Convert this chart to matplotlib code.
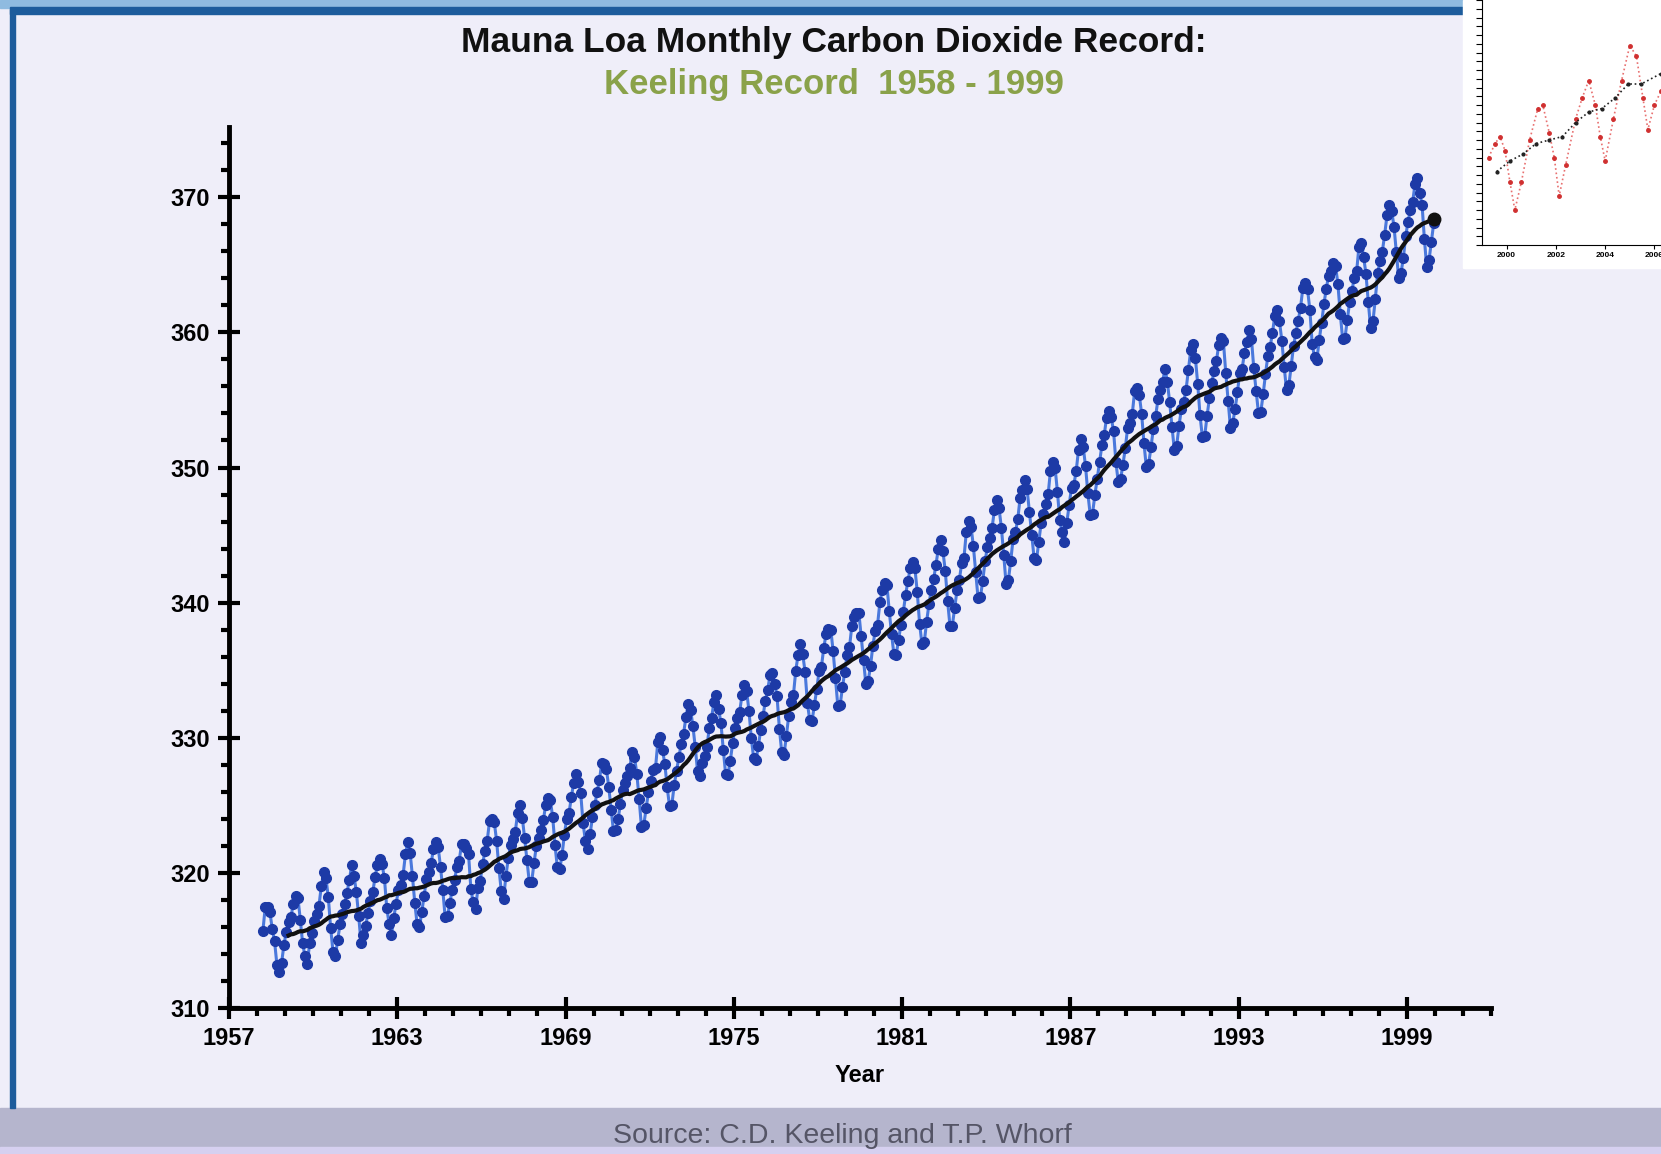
import numpy as np
import pandas as pd
import matplotlib
matplotlib.use("Agg")
import matplotlib.pyplot as plt
from matplotlib.ticker import MultipleLocator
from matplotlib.patches import Rectangle

plt.rcParams['font.family'] = ['Liberation Sans', 'DejaVu Sans']

# monthly CO2 (ppm), 1958 starts in March
co2_1958 = [315.71, 317.45, 317.50, 317.10, 315.86, 314.93, 313.20, 312.66, 313.33, 314.67]
co2_1959 = [315.62, 316.38, 316.71, 317.72, 318.29, 318.15, 316.54, 314.80, 313.84, 313.26, 314.80, 315.58]
co2_1960 = [316.43, 316.97, 317.58, 319.02, 320.03, 319.59, 318.18, 315.91, 314.16, 313.83, 315.00, 316.19]
co2_1961 = [316.93, 317.70, 318.54, 319.48, 320.58, 319.77, 318.57, 316.79, 314.80, 315.38, 316.10, 317.01]
co2_1962 = [317.94, 318.55, 319.68, 320.57, 321.02, 320.62, 319.61, 317.40, 316.25, 315.42, 316.69, 317.70]
co2_1963 = [318.74, 319.07, 319.86, 321.38, 322.25, 321.48, 319.74, 317.77, 316.21, 315.99, 317.12, 318.31]
co2_1964 = [319.57, 320.07, 320.73, 321.77, 322.25, 321.89, 320.44, 318.70, 316.70, 316.79, 317.79, 318.71]
co2_1965 = [319.44, 320.44, 320.89, 322.13, 322.16, 321.87, 321.39, 318.80, 317.81, 317.30, 318.87, 319.42]
co2_1966 = [320.62, 321.59, 322.39, 323.87, 324.01, 323.75, 322.39, 320.37, 318.64, 318.10, 319.79, 321.08]
co2_1967 = [322.07, 322.50, 323.04, 324.42, 325.00, 324.09, 322.55, 320.92, 319.31, 319.31, 320.72, 321.96]
co2_1968 = [322.57, 323.15, 323.89, 325.02, 325.57, 325.36, 324.14, 322.03, 320.41, 320.25, 321.31, 322.84]
co2_1969 = [324.00, 324.42, 325.64, 326.66, 327.34, 326.76, 325.88, 323.67, 322.38, 321.78, 322.85, 324.11]
co2_1970 = [325.03, 325.99, 326.87, 328.13, 328.07, 327.66, 326.35, 324.69, 323.10, 323.16, 323.98, 325.13]
co2_1971 = [326.17, 326.68, 327.18, 327.78, 328.92, 328.57, 327.34, 325.46, 323.36, 323.57, 324.80, 326.01]
co2_1972 = [326.77, 327.63, 327.75, 329.72, 330.07, 329.09, 328.05, 326.32, 324.93, 325.06, 326.50, 327.55]
co2_1973 = [328.54, 329.56, 330.30, 331.50, 332.48, 332.07, 330.87, 329.31, 327.51, 327.18, 328.16, 328.64]
co2_1974 = [329.35, 330.71, 331.48, 332.65, 333.19, 332.16, 331.07, 329.12, 327.32, 327.28, 328.30, 329.58]
co2_1975 = [330.73, 331.46, 331.90, 333.17, 333.94, 333.45, 331.97, 329.95, 328.50, 328.34, 329.37, 330.58]
co2_1976 = [331.59, 332.75, 333.52, 334.64, 334.77, 334.00, 333.06, 330.68, 328.95, 328.75, 330.15, 331.62]
co2_1977 = [332.66, 333.13, 334.95, 336.13, 336.93, 336.17, 334.88, 332.56, 331.29, 331.27, 332.41, 333.60]
co2_1978 = [334.95, 335.25, 336.66, 337.69, 338.03, 338.01, 336.41, 334.41, 332.37, 332.41, 333.75, 334.90]
co2_1979 = [336.14, 336.69, 338.27, 338.95, 339.21, 339.26, 337.54, 335.75, 333.98, 334.19, 335.31, 336.81]
co2_1980 = [337.90, 338.34, 340.01, 340.93, 341.48, 341.33, 339.40, 337.70, 336.19, 336.15, 337.27, 338.32]
co2_1981 = [339.29, 340.55, 341.61, 342.53, 343.03, 342.54, 340.78, 338.44, 336.95, 337.08, 338.58, 339.88]
co2_1982 = [340.96, 341.73, 342.81, 343.97, 344.63, 343.79, 342.32, 340.09, 338.28, 338.29, 339.60, 340.90]
co2_1983 = [341.68, 342.90, 343.33, 345.25, 346.03, 345.63, 344.19, 342.27, 340.35, 340.38, 341.59, 343.05]
co2_1984 = [344.10, 344.79, 345.52, 346.84, 347.63, 346.98, 345.53, 343.55, 341.40, 341.67, 343.10, 344.70]
co2_1985 = [345.21, 346.16, 347.74, 348.34, 349.06, 348.38, 346.72, 345.02, 343.27, 343.13, 344.49, 345.88]
co2_1986 = [346.56, 347.28, 348.01, 349.77, 350.38, 349.93, 348.16, 346.08, 345.22, 344.51, 345.93, 347.22]
co2_1987 = [348.52, 348.73, 349.73, 351.31, 352.09, 351.53, 350.11, 348.08, 346.52, 346.59, 347.96, 349.16]
co2_1988 = [350.39, 351.64, 352.41, 353.69, 354.21, 353.72, 352.69, 350.40, 348.92, 349.13, 350.20, 351.41]
co2_1989 = [352.91, 353.27, 353.96, 355.64, 355.86, 355.37, 353.99, 351.81, 350.05, 350.25, 351.49, 352.85]
co2_1990 = [353.80, 355.04, 355.73, 356.32, 357.32, 356.34, 354.84, 353.01, 351.31, 351.62, 353.07, 354.33]
co2_1991 = [354.84, 355.73, 357.23, 358.66, 359.13, 358.13, 356.19, 353.85, 352.25, 352.35, 353.81, 355.12]
co2_1992 = [356.25, 357.11, 357.86, 359.09, 359.59, 359.33, 357.01, 354.94, 352.96, 353.32, 354.32, 355.57]
co2_1993 = [357.00, 357.31, 358.47, 359.27, 360.19, 359.52, 357.33, 355.64, 354.03, 354.12, 355.41, 356.91]
co2_1994 = [358.24, 358.92, 359.99, 361.23, 361.65, 360.81, 359.38, 357.46, 355.73, 356.07, 357.53, 358.98]
co2_1995 = [359.92, 360.86, 361.83, 363.30, 363.69, 363.19, 361.64, 359.12, 358.17, 357.99, 359.45, 360.68]
co2_1996 = [362.07, 363.24, 364.17, 364.57, 365.13, 364.92, 363.55, 361.38, 359.54, 359.58, 360.89, 362.24]
co2_1997 = [363.09, 364.03, 364.51, 366.35, 366.64, 365.59, 364.31, 362.25, 360.29, 360.82, 362.49, 364.38]
co2_1998 = [365.26, 365.98, 367.24, 368.66, 369.42, 368.99, 367.82, 365.95, 364.02, 364.40, 365.52, 367.13]
co2_1999 = [368.18, 369.07, 369.68, 370.99, 371.46, 370.30, 369.45, 366.90, 364.81, 365.37, 366.72, 368.10]

x_ticks = [1957, 1963, 1969, 1975, 1981, 1987, 1993, 1999]
y_ticks = [310, 320, 330, 340, 350, 360, 370]

# small chart pasted at top right (rough reading, pixel-ish units)
inset_red_x = [115, 135, 150, 165, 180, 195, 215, 240, 265, 280, 300, 315, 330, 350, 380, 400, 420, 440,
               455, 470, 495, 520, 545, 565, 585, 600, 620, 640]
inset_red_y = [250, 290, 310, 270, 180, 100, 180, 300, 390, 400, 320, 250, 140, 230, 360, 420, 470, 400,
               310, 240, 360, 470, 570, 540, 420, 330, 400, 440]
inset_blk_x = [140, 180, 220, 260, 300, 340, 380, 420, 460, 500, 540, 580, 640]
inset_blk_y = [210, 240, 260, 290, 300, 310, 350, 380, 390, 420, 460, 460, 490]
inset_labels = ['2000', '2002', '2004', '2006']

all_years = {y: globals()['co2_%d' % y] for y in range(1958, 2000)}
t = []
co2 = []
for y, vals in all_years.items():
    start = 12 - len(vals)
    for i, v in enumerate(vals):
        t.append(y + (start + i + 0.5) / 12)
        co2.append(v)
trend = pd.Series(co2).rolling(12).mean()

bg = '#efeef9'
fig = plt.figure(figsize=(16.61, 11.54), dpi=100, facecolor=bg)

# frame decorations
fig.patches.append(Rectangle((0, 0.993), 0.882, 0.007, transform=fig.transFigure, color='#8fbbe0', zorder=0))
fig.patches.append(Rectangle((0.006, 0.988), 0.876, 0.006, transform=fig.transFigure, color='#1d5c9c', zorder=1))
fig.patches.append(Rectangle((0.006, 0.04), 0.003, 0.952, transform=fig.transFigure, color='#1d5c9c', zorder=1))
fig.patches.append(Rectangle((0, 0), 1, 0.04, transform=fig.transFigure, color='#b5b5cd', zorder=0))
fig.patches.append(Rectangle((0, 0), 1, 0.006, transform=fig.transFigure, color='#d6d0f0', zorder=1))

ax = fig.add_axes([229 / 1661, 1 - 1008 / 1154, (1491 - 229) / 1661, (1008 - 127) / 1154])
ax.set_facecolor('none')
ax.plot(t, co2, color='#4a78dc', lw=2.2, marker='o', ms=7, mfc='#1d3aa6', mec='#1d3aa6', zorder=2)
ax.plot(t, trend, color='#111111', lw=3, zorder=3)
ax.plot(t[-1], trend.iloc[-1], 'o', color='#111111', ms=9, zorder=3)

ax.set_xlim(1957, 2002)
ax.set_ylim(310, 375.2)
ax.set_xticks(x_ticks)
ax.set_yticks(y_ticks)
ax.xaxis.set_minor_locator(MultipleLocator(1))
ax.yaxis.set_minor_locator(MultipleLocator(2))
for s in ['top', 'right']:
    ax.spines[s].set_visible(False)
for s in ['left', 'bottom']:
    ax.spines[s].set_linewidth(3.5)
ax.tick_params(which='major', direction='inout', length=16, width=3, labelsize=17)
ax.tick_params(which='minor', direction='out', length=6, width=3)
ax.tick_params(axis='x', which='major', pad=6)
ax.tick_params(axis='y', which='major', pad=6)
for lab in ax.get_xticklabels() + ax.get_yticklabels():
    lab.set_fontweight('bold')
ax.set_xlabel('Year', fontsize=17, fontweight='bold', labelpad=10)

fig.text(0.502, 0.963, 'Mauna Loa Monthly Carbon Dioxide Record:', ha='center', va='center',
         fontsize=25.5, fontweight='bold', color='#111111')
fig.text(0.502, 0.927, 'Keeling Record  1958 - 1999', ha='center', va='center',
         fontsize=25, fontweight='bold', color='#8aa24a')
fig.text(0.507, 0.016, 'Source: C.D. Keeling and T.P. Whorf', ha='center', va='center',
         fontsize=20.5, color='#555566')

# pasted thumbnail chart
fig.patches.append(Rectangle((1463 / 1661, 1 - 268 / 1154), 198 / 1661, 268 / 1154,
                             transform=fig.transFigure, color='white', zorder=1))
ins = fig.add_axes([1482 / 1661, 1 - 245 / 1154, 179 / 1661, 245 / 1154])
ins.set_zorder(3)
ins.set_facecolor('white')
ins.plot(inset_red_x, inset_red_y, ':', color='#e87070', lw=1.2, marker='.', ms=5, mfc='#d03030', mec='#d03030')
ins.plot(inset_blk_x, inset_blk_y, ':', color='#222222', lw=1.2, marker='.', ms=4)
ins.set_xlim(95, 640)
ins.set_ylim(0, 700)
for s in ['top', 'right']:
    ins.spines[s].set_visible(False)
ins.set_xticks([170, 320, 470, 620])
ins.set_xticklabels(inset_labels, fontsize=6, fontweight='bold')
ins.set_yticks([])
ins.yaxis.set_minor_locator(MultipleLocator(25))
ins.tick_params(which='minor', length=4, width=0.8)
ins.tick_params(length=3, pad=2)

fig.savefig('out.png', dpi=100, facecolor=bg)
